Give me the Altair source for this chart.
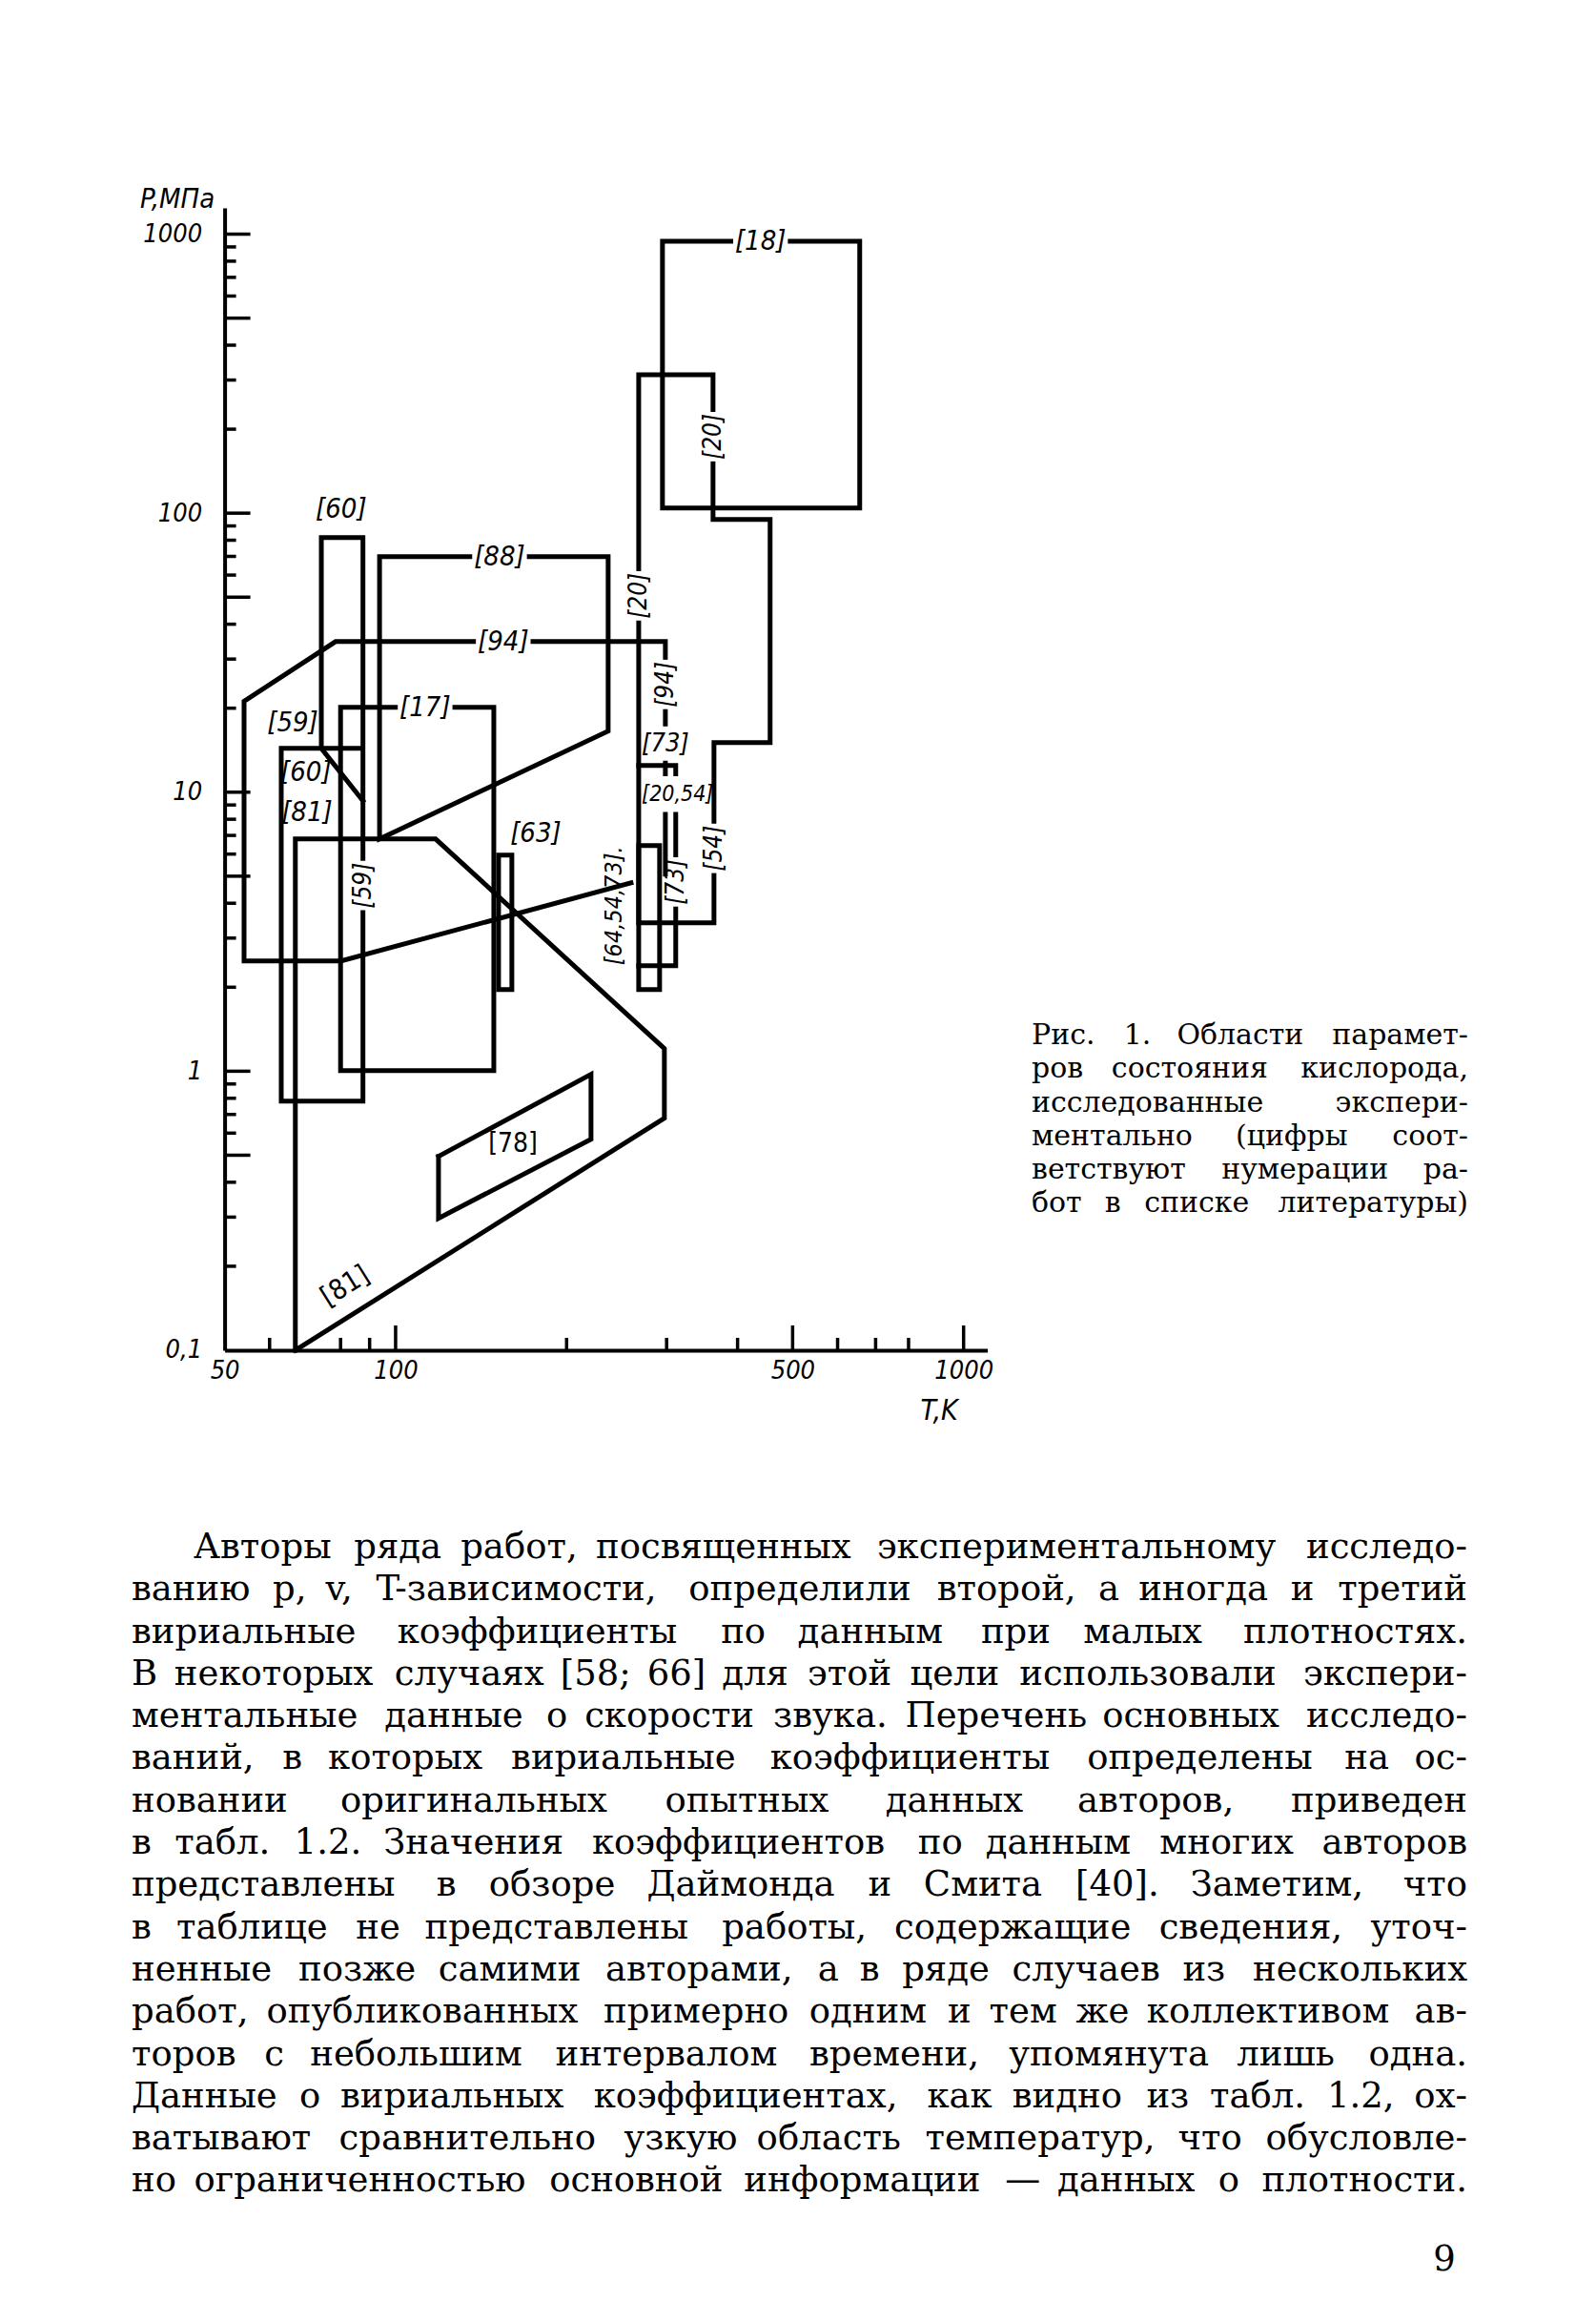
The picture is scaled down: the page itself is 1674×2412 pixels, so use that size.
import altair as alt
import pandas as pd

# ---------------- axes (T in K, p in MPa) ----------------
T_DOMAIN = [50, 1101]
P_DOMAIN = [0.1, 1242]
X_LABELS = [50, 100, 500, 1000]
Y_LABELS = [0.1, 1, 10, 100, 1000]
XTICK_LONG = [100, 500, 1000]
XTICK_SHORT = [60, 80, 90, 200, 300, 400, 600, 700, 800]
YTICK_LONG = [0.5, 1, 5, 10, 50, 100, 500, 1000]
YTICK_SHORT = [0.2, 0.3, 0.4, 0.6, 0.7, 0.8, 0.9, 2, 3, 4, 6, 7, 8, 9,
               20, 30, 40, 60, 70, 80, 90, 200, 300, 400, 600, 700, 800, 900]

# ---------------- studied regions: outline vertices (T, p) ----------------
r18_T = [295.0, 656.3, 656.3, 295.0, 295.0]
r18_p = [943.5, 943.5, 104.3, 104.3, 943.5]
r20_T = [267.9, 362.1, 362.1, 456.4, 456.4, 363.5, 363.5, 267.9, 267.9]
r20_p = [313.6, 313.6, 94.9, 94.9, 15.05, 15.05, 3.404, 3.404, 313.6]
r64_T = [267.9, 291.6, 291.6, 267.9, 267.9]
r64_p = [6.437, 6.437, 1.963, 1.963, 6.437]
r73_T = [267.9, 311.3, 311.3, 267.9]
r73_p = [12.46, 12.46, 2.389, 2.389]
r94_T = [259.7, 80.2, 54.1, 54.1, 78.4, 298.5, 298.5]
r94_p = [4.73, 2.485, 2.485, 21.18, 34.65, 34.65, 5.085]
r88_T = [93.7, 236.7, 236.7, 93.7, 93.7]
r88_p = [69.8, 69.8, 16.55, 6.80, 69.8]
r17_T = [80.0, 148.9, 148.9, 80.0, 80.0]
r17_p = [20.14, 20.14, 1.006, 1.006, 20.14]
r60_T = [74.0, 74.0, 87.6, 87.6, 62.9, 62.9, 87.6]
r60_p = [14.36, 81.7, 81.7, 0.782, 0.782, 14.36, 14.36]
r59_T = [74.0, 87.6]
r59_p = [14.36, 9.318]
r81_T = [66.6, 66.6, 117.6, 297.3, 297.3, 66.6]
r81_p = [0.1, 6.80, 6.80, 1.205, 0.679, 0.1]
r78_T = [119.0, 220.8, 220.8, 119.0, 119.0]
r78_p = [0.4953, 0.9745, 0.5707, 0.2971, 0.4953]
r63_T = [151.8, 160.2, 160.2, 151.8, 151.8]
r63_p = [5.951, 5.951, 1.963, 1.963, 5.951]

# ---------------- reference labels ----------------
lab_text = ["[18]", "[20]", "[60]", "[88]", "[94]", "[20]", "[94]", "[73]", "[17]",
            "[59]", "[60]", "[81]", "[59]", "[63]", "[20,54]", "[54]", "[73]",
            "[64,54,73].", "[78]", "[81]"]
lab_T = [439.0, 362.1, 80.2, 152.4, 154.7, 267.9, 298.5, 298.5, 112.7,
         65.9, 69.5, 69.8, 87.6, 176.5, 313.7, 363.5, 311.3, 242.2, 160.9, 81.5]
lab_p = [943.5, 188.0, 103.4, 69.8, 34.65, 50.55, 24.33, 14.94, 20.14,
         17.76, 11.80, 8.48, 4.63, 7.13, 9.85, 6.29, 4.77, 3.92, 0.549, 0.170]

caption_lines = [
    "Рис. 1. Области парамет-",
    "ров состояния кислорода,",
    "исследованные экспери-",
    "ментально (цифры соот-",
    "ветствуют нумерации ра-",
    "бот в списке литературы)",
]
body_lines = [
    "Авторы ряда работ, посвященных экспериментальному исследо-",
    "ванию p, v, T-зависимости, определили второй, а иногда и третий",
    "вириальные коэффициенты по данным при малых плотностях.",
    "В некоторых случаях [58; 66] для этой цели использовали экспери-",
    "ментальные данные о скорости звука. Перечень основных исследо-",
    "ваний, в которых вириальные коэффициенты определены на ос-",
    "новании оригинальных опытных данных авторов, приведен",
    "в табл. 1.2. Значения коэффициентов по данным многих авторов",
    "представлены в обзоре Даймонда и Смита [40]. Заметим, что",
    "в таблице не представлены работы, содержащие сведения, уточ-",
    "ненные позже самими авторами, а в ряде случаев из нескольких",
    "работ, опубликованных примерно одним и тем же коллективом ав-",
    "торов с небольшим интервалом времени, упомянута лишь одна.",
    "Данные о вириальных коэффициентах, как видно из табл. 1.2, ох-",
    "ватывают сравнительно узкую область температур, что обусловле-",
    "но ограниченностью основной информации — данных о плотности.",
]
page_number = "9"

# ---------------- layout / style ----------------
W, H = 800, 1198
X0, Y0 = 235.6, 218.0          # page position of the plot origin
LABEL_FONT = "Liberation Sans Narrow, DejaVu Sans Condensed, Liberation Sans, sans-serif"
TEXT_FONT = "DejaVu Serif, Liberation Serif, serif"

xs = alt.Scale(type="log", domain=T_DOMAIN, nice=False)
ys = alt.Scale(type="log", domain=P_DOMAIN, nice=False)

x_axis = alt.Axis(values=X_LABELS, format="d", grid=False, ticks=False,
                  domainColor="black", domainWidth=4, labelFont=LABEL_FONT,
                  labelFontSize=27, labelFontStyle="italic", labelColor="black",
                  labelPadding=9, labelFlush=False, labelOverlap=False,
                  title="T,K", titleFont=LABEL_FONT, titleFontSize=30,
                  titleFontStyle="italic", titleFontWeight="normal", titleColor="black",
                  titleX=749, titleY=64, titleAngle=0, titleAlign="center",
                  titleBaseline="middle")
y_axis = alt.Axis(values=Y_LABELS,
                  labelExpr="datum.value < 0.5 ? '0,1' : format(datum.value, 'd')",
                  grid=False, ticks=False, domainColor="black", domainWidth=4,
                  labelFont=LABEL_FONT, labelFontSize=27, labelFontStyle="italic",
                  labelColor="black", labelPadding=24, labelFlush=False,
                  labelOverlap=False, title="P,МПа", titleFont=LABEL_FONT,
                  titleFontSize=29, titleFontStyle="italic", titleFontWeight="normal",
                  titleColor="black", titleX=-50, titleY=-10, titleAngle=0,
                  titleAlign="center", titleBaseline="middle")

XENC = dict(field="T", type="quantitative", scale=xs, axis=x_axis)
YENC = dict(field="p", type="quantitative", scale=ys, axis=y_axis)


def X():
    return alt.X(**XENC)


def Y():
    return alt.Y(**YENC)


regions = {
    "18": (r18_T, r18_p), "20": (r20_T, r20_p), "64": (r64_T, r64_p),
    "73": (r73_T, r73_p), "94": (r94_T, r94_p), "88": (r88_T, r88_p),
    "17": (r17_T, r17_p), "60": (r60_T, r60_p), "59": (r59_T, r59_p),
    "81": (r81_T, r81_p), "78": (r78_T, r78_p), "63": (r63_T, r63_p),
}
rows = []
for name, (Ts, ps) in regions.items():
    for i, (t, p) in enumerate(zip(Ts, ps)):
        rows.append({"reg": name, "i": i, "T": t, "p": p})
lines_df = pd.DataFrame(rows)

lines = alt.Chart(lines_df).mark_line(
    color="black", strokeWidth=5, strokeJoin="miter", strokeCap="square"
).encode(x=X(), y=Y(), detail="reg:N", order="i:Q")

# label styles by kind: font size, angle, italic, white box behind
lab_kind = ["h", "v", "u", "h", "h", "v", "v", "uv", "h", "u", "u", "u", "v", "u",
            "hb", "v", "v", "r", "p", "d"]
KIND_SIZE = {"h": 29, "u": 29, "v": 26, "uv": 27, "hb": 23, "r": 25, "p": 28, "d": 29}
KIND_ANGLE = {"v": 270, "r": 270, "d": 328}
H_PATH = "M-1,-0.3H1V0.3H-1Z"
V_PATH = "M-0.3,-1H0.3V1H-0.3Z"
B_PATH = "M-1,-0.55H1V0.55H-1Z"


def label_len(s, fs):
    w = 0.0
    for c in s:
        w += 0.35 if c in "[]" else (0.29 if c in ",." else 0.57)
    return w * fs


lab_rows, box_rows = [], []
for t, T, p, k in zip(lab_text, lab_T, lab_p, lab_kind):
    fs = KIND_SIZE[k]
    ang = KIND_ANGLE.get(k, 0)
    ital = k not in ("p", "d")
    lab_rows.append({"t": t, "T": T, "p": p, "fs": fs, "ang": ang, "ital": ital})
    L = label_len(t, fs) + 4
    if k == "h":
        box_rows.append({"T": T, "p": p, "path": H_PATH, "sz": L * L})
    elif k == "v":
        box_rows.append({"T": T, "p": p, "path": V_PATH, "sz": L * L})
    elif k == "uv":
        box_rows.append({"T": T, "p": p, "path": V_PATH, "sz": 36 ** 2})
    elif k == "hb":
        box_rows.append({"T": T, "p": p, "path": B_PATH, "sz": 68 ** 2})
lab_df = pd.DataFrame(lab_rows)
box_df = pd.DataFrame(box_rows)

boxes = alt.Chart(box_df).mark_point(filled=True, color="white", opacity=1,
                                     strokeWidth=0).encode(
    x=X(), y=Y(),
    shape=alt.Shape("path:N", scale=None),
    size=alt.Size("sz:Q", scale=None),
)


def label_layer(df, italic, angle):
    return alt.Chart(df).mark_text(
        font=LABEL_FONT, fontStyle="italic" if italic else "normal",
        angle=angle, align="center", baseline="middle", color="black"
    ).encode(x=X(), y=Y(), text="t:N", size=alt.Size("fs:Q", scale=None))


label_layers = []
for (ital, ang), g in lab_df.groupby(["ital", "ang"]):
    label_layers.append(label_layer(g.reset_index(drop=True), bool(ital), int(ang)))

# axis ticks drawn inside the frame
ytl = alt.Chart(pd.DataFrame({"p": YTICK_LONG})).mark_rule(color="black", strokeWidth=3.5).encode(
    y=Y(), x=alt.value(0), x2=alt.value(27))
yts = alt.Chart(pd.DataFrame({"p": YTICK_SHORT})).mark_rule(color="black", strokeWidth=3.5).encode(
    y=Y(), x=alt.value(0), x2=alt.value(12))
xtl = alt.Chart(pd.DataFrame({"T": XTICK_LONG})).mark_rule(color="black", strokeWidth=3.5).encode(
    x=X(), y=alt.value(H), y2=alt.value(H - 26))
xts = alt.Chart(pd.DataFrame({"T": XTICK_SHORT})).mark_rule(color="black", strokeWidth=3.5).encode(
    x=X(), y=alt.value(H), y2=alt.value(H - 13))

# ---------------- justified text blocks ----------------
CW = {" ": .318, ".": .318, ",": .318, ":": .337, ";": .337, "-": .338,
      "(": .39, ")": .39, "[": .39, "]": .39, "—": 1.0, "'": .275,
      "a": .596, "b": .64, "c": .562, "d": .64, "e": .592, "f": .371, "g": .64,
      "h": .644, "i": .32, "k": .604, "l": .32, "m": .958, "n": .644, "o": .602,
      "p": .64, "r": .478, "s": .513, "t": .402, "u": .644, "v": .565, "w": .833,
      "x": .565, "y": .565, "z": .525, "T": .735,
      "а": .596, "б": .602, "в": .60, "г": .53, "д": .66, "е": .592, "ж": .93,
      "з": .55, "и": .69, "й": .69, "к": .63, "л": .67, "м": .80, "н": .69,
      "о": .602, "п": .69, "р": .64, "с": .562, "т": .58, "у": .565, "ф": .84,
      "х": .565, "ц": .69, "ч": .65, "ш": .97, "щ": .97, "ъ": .69, "ы": .88,
      "ь": .60, "э": .57, "ю": .88, "я": .63}


def char_w(c):
    if c in CW:
        return CW[c]
    if c.isdigit():
        return 0.636
    if c in "ЖШЩЮ":
        return 1.05
    if c.isupper():
        return 0.75
    return 0.62


def word_w(wd, size):
    return sum(char_w(c) for c in wd) * size


def justify(lines, left, right, y_first, dy, size, indent=0.0, min_gap=9.0):
    first, mid, last = [], [], []
    for k, line in enumerate(lines):
        words = line.split()
        lft = left + (indent if k == 0 else 0.0)
        n = len(words)
        fs = size
        ws = [word_w(w, fs) for w in words]
        if n > 1 and (right - lft - sum(ws)) / (n - 1) < min_gap:
            fs = size * (right - lft - min_gap * (n - 1)) / sum(ws)
            ws = [word_w(w, fs) for w in words]
        gap = (right - lft - sum(ws)) / (n - 1) if n > 1 else 0
        y = y_first + k * dy - Y0
        x = lft
        for j, w in enumerate(words):
            if j == 0:
                first.append({"px": x - X0, "py": y, "t": w, "fs": fs})
            elif j == n - 1:
                last.append({"px": right - X0, "py": y, "t": w, "fs": fs})
            else:
                mid.append({"px": x - X0, "py": y, "t": w, "fs": fs})
            x += ws[j] + gap
    return first, mid, last


def text_layer(rows, align):
    return alt.Chart(pd.DataFrame(rows)).mark_text(
        font=TEXT_FONT, align=align, baseline="middle", color="black"
    ).encode(
        x=alt.X("px:Q", scale=None),
        y=alt.Y("py:Q", scale=None),
        text="t:N",
        size=alt.Size("fs:Q", scale=None),
    )


CAP_SIZE = 30
BODY_SIZE = 37
cf, cm, cl = justify(caption_lines, 1082, 1540, 1086, 35.3, CAP_SIZE, min_gap=7)
bf, bm, bl = justify(body_lines, 138, 1539, 1623, 44.3, BODY_SIZE, indent=65)
text_layers = [
    text_layer(cf, "left"), text_layer(cm, "left"), text_layer(cl, "right"),
    text_layer(bf, "left"), text_layer(bm, "left"), text_layer(bl, "right"),
    text_layer([{"px": 1515 - X0, "py": 2370 - Y0, "t": page_number, "fs": BODY_SIZE}],
               "center"),
]

chart = alt.layer(
    lines, boxes, ytl, yts, xtl, xts, *label_layers, *text_layers
).properties(
    width=W, height=H,
    autosize=alt.AutoSizeParams(type="none"),
    padding={"left": X0 - 8, "top": Y0 - 8, "right": 620, "bottom": 985},
    background="white",
).configure_view(stroke=None)

chart.save("out.html", embed_options={"renderer": "svg", "actions": False})
